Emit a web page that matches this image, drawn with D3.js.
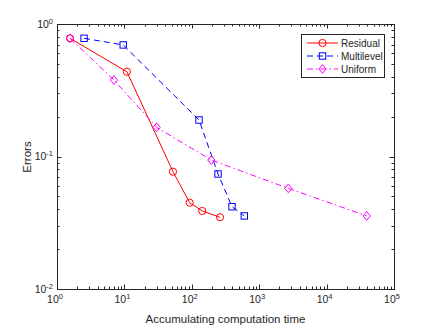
<!DOCTYPE html>
<html><head><meta charset="utf-8">
<script src="https://cdn.jsdelivr.net/npm/d3@7"></script>
<style>body{margin:0;background:#fff}svg{display:block;font-family:"Liberation Sans",Arial,sans-serif}</style>
</head><body><svg id="c" width="436" height="327"></svg>
<script>
const seriesNames = ["Residual", "Multilevel", "Uniform"];
const residualX = [1.56, 10.9, 52.6, 93, 143, 262];
const residualY = [0.78, 0.436, 0.0768, 0.0448, 0.0388, 0.0348];
const multilevelX = [2.52, 9.6, 128, 245, 395, 601];
const multilevelY = [0.78, 0.695, 0.1886, 0.0738, 0.0418, 0.0356];
const uniformX = [1.56, 7.0, 30.1, 195, 2703, 39350];
const uniformY = [0.78, 0.378, 0.166, 0.094, 0.0575, 0.0356];
const xTickExps = [0, 1, 2, 3, 4, 5];
const yTickExps = [-2, -1, 0];

const svg = d3.select("#c");
const L = 57, R = 394, T = 24, B = 289;
const x = d3.scaleLog().domain([1, 1e5]).range([L, R]);
const y = d3.scaleLog().domain([1e-2, 1]).range([B, T]);
const axisCol = "#262626";

const series = [
  {name: seriesNames[0], xs: residualX, ys: residualY, color: "#ff0000", dash: null, marker: "circle"},
  {name: seriesNames[1], xs: multilevelX, ys: multilevelY, color: "#0000ff", dash: "6,4", marker: "square"},
  {name: seriesNames[2], xs: uniformX, ys: uniformY, color: "#ff00ff", dash: "6,3,1.5,3", marker: "diamond"}
];

function drawMarker(g, type, cx, cy, color) {
  if (type === "circle") g.append("circle").attr("cx", cx).attr("cy", cy).attr("r", 3.6);
  else if (type === "square") g.append("rect").attr("x", cx - 3.2).attr("y", cy - 3.2).attr("width", 6.4).attr("height", 6.4);
  else g.append("path").attr("d", `M${cx},${cy-4.4}L${cx+3.6},${cy}L${cx},${cy+4.4}L${cx-3.6},${cy}Z`);
  g.selectAll("*").attr("fill", "none").attr("stroke", color).attr("stroke-width", 1);
}

// axes box
const ax = svg.append("g");
// minor ticks
const minorX = [], minorY = [];
for (let e = 0; e < 5; e++) for (let k = 2; k <= 9; k++) minorX.push(k * Math.pow(10, e));
for (let e = -2; e < 0; e++) for (let k = 2; k <= 9; k++) minorY.push(k * Math.pow(10, e));
const majorX = xTickExps.map(e => Math.pow(10, e));
const majorY = yTickExps.map(e => Math.pow(10, e));

function ticksX(vals, len) {
  vals.forEach(v => {
    const px = Math.round(x(v)) + 0.5;
    ax.append("line").attr("x1", px).attr("x2", px).attr("y1", B).attr("y2", B - len);
    ax.append("line").attr("x1", px).attr("x2", px).attr("y1", T).attr("y2", T + len);
  });
}
function ticksY(vals, len) {
  vals.forEach(v => {
    const py = Math.round(y(v)) + 0.5;
    ax.append("line").attr("y1", py).attr("y2", py).attr("x1", L).attr("x2", L + len);
    ax.append("line").attr("y1", py).attr("y2", py).attr("x1", R).attr("x2", R - len);
  });
}
ticksX(minorX, 2.5); ticksX(majorX, 4.5);
ticksY(minorY, 2.5); ticksY(majorY, 4.5);
ax.append("rect").attr("x", L + 0.5).attr("y", T + 0.5).attr("width", R - L).attr("height", B - T).attr("fill", "none");
ax.selectAll("line,rect").attr("stroke", axisCol).attr("stroke-width", 1);

// tick labels
xTickExps.forEach(e => {
  const t = svg.append("text").attr("x", x(Math.pow(10, e)) - 2).attr("y", 303).attr("text-anchor", "middle")
    .attr("font-size", 10.5).attr("fill", axisCol);
  t.append("tspan").text("10");
  t.append("tspan").attr("dy", -4).attr("font-size", 7.5).text(e);
});
yTickExps.forEach(e => {
  const t = svg.append("text").attr("x", 53).attr("y", y(Math.pow(10, e)) + 3.5).attr("text-anchor", "end")
    .attr("font-size", 10.5).attr("fill", axisCol);
  t.append("tspan").text("10");
  t.append("tspan").attr("dy", -4).attr("font-size", 7.5).text(e);
});

// axis labels
svg.append("text").attr("x", 225.5).attr("y", 323).attr("text-anchor", "middle").attr("font-size", 11.5)
  .attr("fill", axisCol).text("Accumulating computation time");
svg.append("text").attr("transform", "translate(31,157) rotate(-90)").attr("text-anchor", "middle").attr("font-size", 11.5)
  .attr("fill", axisCol).text("Errors");

// series
const line = d3.line().x(d => x(d[0])).y(d => y(d[1]));
series.forEach(s => {
  const pts = s.xs.map((v, i) => [v, s.ys[i]]);
  svg.append("path").attr("d", line(pts)).attr("fill", "none").attr("stroke", s.color).attr("stroke-width", 1)
    .attr("stroke-dasharray", s.dash);
  pts.forEach(p => drawMarker(svg.append("g"), s.marker, x(p[0]), y(p[1]), s.color));
});

// legend
const lg = svg.append("g");
lg.append("rect").attr("x", 301.5).attr("y", 34.5).attr("width", 83).attr("height", 43)
  .attr("fill", "#fff").attr("stroke", axisCol).attr("stroke-width", 1);
series.forEach((s, i) => {
  const yy = 43 + i * 13;
  lg.append("line").attr("x1", 307).attr("x2", 338).attr("y1", yy).attr("y2", yy)
    .attr("stroke", s.color).attr("stroke-width", 1).attr("stroke-dasharray", s.dash);
  drawMarker(lg.append("g"), s.marker, 322.5, yy, s.color);
  lg.append("text").attr("x", 341).attr("y", yy + 4).attr("font-size", 10).attr("fill", axisCol).text(s.name);
});
</script></body></html>
